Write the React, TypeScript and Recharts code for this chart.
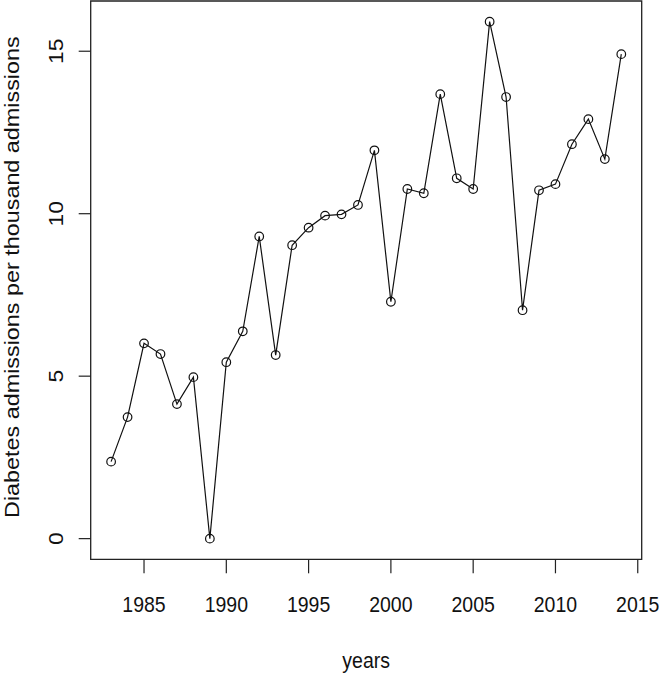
import { Line, LineChart, ReferenceArea, XAxis, YAxis } from "recharts";

const years = [
    1983, 1984, 1985, 1986, 1987, 1988, 1989, 1990, 1991, 1992, 1993, 1994, 1995, 1996, 1997, 1998,
    1999, 2000, 2001, 2002, 2003, 2004, 2005, 2006, 2007, 2008, 2009, 2010, 2011, 2012, 2013, 2014,
];
const admissions = [
    2.37, 3.74, 6.01, 5.68, 4.14, 4.97, 0.0, 5.43, 6.38, 9.3, 5.65, 9.03, 9.57, 9.94, 9.98, 10.27,
    11.95, 7.29, 10.76, 10.63, 13.68, 11.09, 10.76, 15.91, 13.59, 7.03, 10.72, 10.91, 12.14, 12.91, 11.68, 14.91,
];
const xTicks = [1985, 1990, 1995, 2000, 2005, 2010, 2015];
const yTicks = [0, 5, 10, 15];

// R pads the data range by 4% on each side
const xDomain = [1981.76, 2015.24];
const yDomain = [-0.636, 16.546];

const data = years.map((year, i) => ({ year, value: admissions[i] }));

const FONT = "'Liberation Sans', Arial, Helvetica, sans-serif";
const STRETCH = 1.14; // the source image is a bit taller than wide

const XTick = ({ x, y, payload }: any) => (
    <text
        x={x}
        y={y}
        textAnchor="middle"
        fontFamily={FONT}
        fontSize={19.5}
        fill="#111"
        transform={`translate(${x} ${y}) scale(1 ${STRETCH}) translate(${-x} ${-y})`}
    >
        {payload.value}
    </text>
);

const YTick = ({ x, y, payload }: any) => (
    <text
        x={x}
        y={y}
        textAnchor="middle"
        fontFamily={FONT}
        fontSize={20}
        fill="#111"
        transform={`rotate(-90 ${x} ${y}) translate(${x} ${y}) scale(${STRETCH} 1) translate(${-x} ${-y})`}
    >
        {payload.value}
    </text>
);

const YTitle = ({ viewBox }: any) => {
    const x = viewBox.x + 19.5;
    const y = viewBox.y + viewBox.height / 2 - 3;
    return (
        <text
            x={x}
            y={y}
            textAnchor="middle"
            fontFamily={FONT}
            fontSize={20.5}
            fill="#111"
            transform={`rotate(-90 ${x} ${y}) translate(${x} ${y}) scale(${STRETCH} 1) translate(${-x} ${-y})`}
        >
            Diabetes admissions per thousand admissions
        </text>
    );
};

const XTitle = ({ viewBox }: any) => {
    const x = viewBox.x + viewBox.width / 2;
    const y = viewBox.y + 109;
    return (
        <text
            x={x}
            y={y}
            textAnchor="middle"
            fontFamily={FONT}
            fontSize={19.5}
            fill="#111"
            transform={`translate(${x} ${y}) scale(1 ${STRETCH}) translate(${-x} ${-y})`}
        >
            years
        </text>
    );
};

export default function App() {
    return (
        <div style={{ position: "absolute", left: 0, top: 0, background: "#fff" }}>
            <LineChart
                width={660}
                height={675}
                data={data}
                margin={{ top: 1, right: 18.3, left: 0, bottom: 0 }}
            >
                <XAxis
                    dataKey="year"
                    type="number"
                    domain={xDomain}
                    ticks={xTicks}
                    allowDataOverflow
                    height={115.7}
                    axisLine={false}
                    tickSize={14}
                    tickMargin={38.7}
                    tickLine={{ stroke: "#222", strokeWidth: 1.2 }}
                    tick={<XTick />}
                    interval={0}
                    label={<XTitle />}
                />
                <YAxis
                    type="number"
                    domain={yDomain}
                    ticks={yTicks}
                    allowDataOverflow
                    width={90.7}
                    axisLine={false}
                    tickSize={12}
                    tickMargin={15.7}
                    tickLine={{ stroke: "#222", strokeWidth: 1.2 }}
                    tick={<YTick />}
                    interval={0}
                    label={<YTitle />}
                />
                <ReferenceArea
                    x1={xDomain[0]}
                    x2={xDomain[1]}
                    y1={yDomain[0]}
                    y2={yDomain[1]}
                    fill="none"
                    stroke="#222"
                    strokeWidth={1.3}
                    ifOverflow="visible"
                />
                <Line
                    type="linear"
                    dataKey="value"
                    stroke="#111"
                    strokeWidth={1.2}
                    dot={{ r: 4.3, fill: "none", stroke: "#111", strokeWidth: 1.2 }}
                    activeDot={false}
                    isAnimationActive={false}
                />
            </LineChart>
        </div>
    );
}
